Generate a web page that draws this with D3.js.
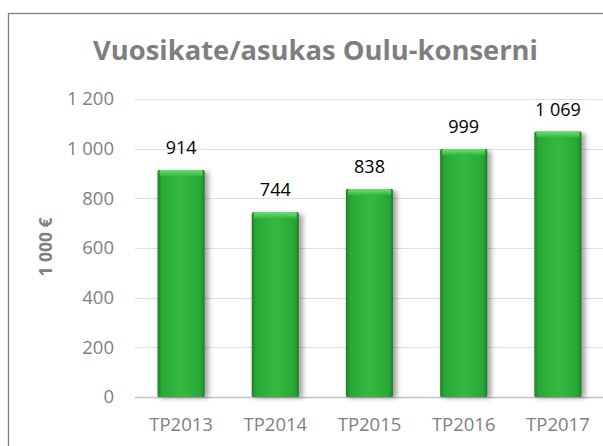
<!DOCTYPE html>
<html>
<head>
<meta charset="utf-8">
<script src="https://cdn.jsdelivr.net/npm/d3@7"></script>
<style>
  body { margin: 0; background: #fff; }
  svg { display: block; font-family: "Open Sans", "Liberation Sans", sans-serif; }
</style>
</head>
<body>
<div id="chart"></div>
<script>
const categories = ["TP2013", "TP2014", "TP2015", "TP2016", "TP2017"];
const values = [914, 744, 838, 999, 1069];
const yTicks = [0, 200, 400, 600, 800, 1000, 1200];
const title = "Vuosikate/asukas Oulu-konserni";
const yTitle = "1 000 €";

const width = 603, height = 446;
const fmt = v => d3.format(",")(v).replace(/,/g, " ");

const svg = d3.select("#chart").append("svg")
  .attr("width", width)
  .attr("height", height);

// gradients for the bars
const defs = svg.append("defs");
const grad = defs.append("linearGradient").attr("id", "barGrad")
  .attr("x1", "0").attr("x2", "1").attr("y1", "0").attr("y2", "0");
grad.append("stop").attr("offset", "0%").attr("stop-color", "#1f7d28");
grad.append("stop").attr("offset", "9%").attr("stop-color", "#2aa836");
grad.append("stop").attr("offset", "50%").attr("stop-color", "#34b940");
grad.append("stop").attr("offset", "91%").attr("stop-color", "#2aa836");
grad.append("stop").attr("offset", "100%").attr("stop-color", "#1f7d28");

const capGrad = defs.append("linearGradient").attr("id", "capGrad")
  .attr("x1", "0").attr("x2", "0").attr("y1", "0").attr("y2", "1");
capGrad.append("stop").attr("offset", "0%").attr("stop-color", "#72da7b");
capGrad.append("stop").attr("offset", "100%").attr("stop-color", "#34b940");

const shadow = defs.append("filter").attr("id", "shadow")
  .attr("x", "-30%").attr("y", "-10%").attr("width", "160%").attr("height", "120%");
shadow.append("feGaussianBlur").attr("stdDeviation", 2.5);

// chart frame
svg.append("rect")
  .attr("x", 8.5).attr("y", 13.5)
  .attr("width", width + 20).attr("height", height + 20)
  .attr("fill", "#fff")
  .attr("stroke", "#7f7f7f")
  .attr("stroke-width", 1.3);

const titleText = svg.append("text")
  .attr("x", 315.5).attr("y", 60)
  .attr("text-anchor", "middle")
  .attr("font-size", 27)
  .attr("font-weight", "bold")
  .attr("fill", "#7f7f7f")
  .text(title);
// fit the title to the width it has in the original
const tw = titleText.node().getComputedTextLength();
titleText.attr("font-size", 27 * 445 / tw);

const x = d3.scaleBand()
  .domain(categories)
  .range([134, 605])
  .paddingInner(0.5)
  .paddingOuter(0.25);

const y = d3.scaleLinear()
  .domain([0, 1200])
  .range([397, 99]);

// gridlines
svg.append("g")
  .selectAll("line")
  .data(yTicks)
  .join("line")
  .attr("x1", 135).attr("x2", width)
  .attr("y1", d => Math.round(y(d)) + 0.5)
  .attr("y2", d => Math.round(y(d)) + 0.5)
  .attr("stroke", d => d === 0 ? "#c4c4c4" : "#dedede")
  .attr("stroke-width", d => d === 0 ? 1.5 : 1);

// y axis labels
const yAxis = svg.append("g")
  .attr("transform", "translate(114,0)")
  .call(d3.axisLeft(y).tickValues(yTicks).tickFormat(fmt).tickSize(0).tickPadding(0));
yAxis.select(".domain").remove();
yAxis.selectAll("text")
  .attr("font-size", 18.5)
  .attr("font-family", "'Open Sans', sans-serif")
  .attr("fill", "#7f7f7f");

// x axis labels
const xAxis = svg.append("g")
  .attr("transform", "translate(0,418)")
  .call(d3.axisBottom(x).tickSize(0).tickPadding(0));
xAxis.select(".domain").remove();
xAxis.selectAll("text")
  .attr("font-size", 18.5)
  .attr("font-family", "'Open Sans', sans-serif")
  .attr("fill", "#7f7f7f");

svg.append("text")
  .attr("transform", "translate(52,247) rotate(-90)")
  .attr("text-anchor", "middle")
  .attr("font-size", 17.5)
  .attr("font-weight", "bold")
  .attr("fill", "#7f7f7f")
  .text(yTitle);

// bars
const bars = svg.append("g")
  .selectAll("g")
  .data(values)
  .join("g");

bars.append("rect")
  .attr("x", (d, i) => x(categories[i]) + 2)
  .attr("y", d => y(d) + 2)
  .attr("width", x.bandwidth() + 2)
  .attr("height", d => y(0) - y(d) - 1)
  .attr("fill", "#000")
  .attr("opacity", 0.35)
  .attr("filter", "url(#shadow)");

bars.append("rect")
  .attr("x", (d, i) => x(categories[i]))
  .attr("y", d => y(d))
  .attr("width", x.bandwidth())
  .attr("height", d => y(0) - y(d))
  .attr("rx", 1.5)
  .attr("fill", "url(#barGrad)");

bars.append("rect")
  .attr("x", (d, i) => x(categories[i]) + 2)
  .attr("y", d => y(d))
  .attr("width", x.bandwidth() - 4)
  .attr("height", 6)
  .attr("rx", 1.5)
  .attr("fill", "url(#capGrad)");

bars.append("text")
  .attr("x", (d, i) => x(categories[i]) + x.bandwidth() / 2)
  .attr("y", d => y(d) - 16)
  .attr("text-anchor", "middle")
  .attr("font-size", 18)
  .attr("fill", "#000")
  .text(fmt);
</script>
</body>
</html>
